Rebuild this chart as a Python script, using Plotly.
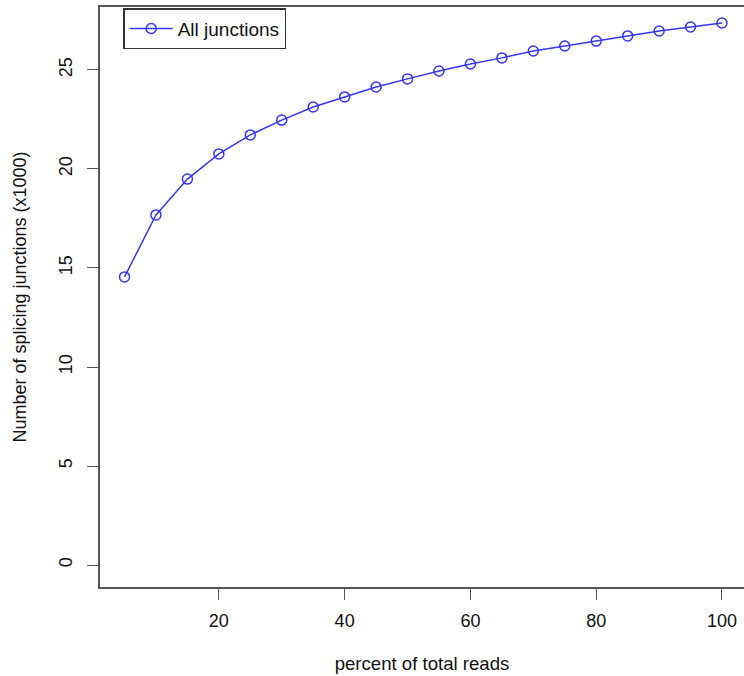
import plotly.graph_objects as go

percent = [5, 10, 15, 20, 25, 30, 35, 40, 45, 50, 55, 60, 65, 70, 75, 80, 85, 90, 95, 100]
junctions = [14.55, 17.68, 19.49, 20.76, 21.72, 22.47, 23.13, 23.64, 24.14, 24.55,
             24.95, 25.30, 25.61, 25.96, 26.21, 26.46, 26.72, 26.97, 27.17, 27.37]
series_name = "All junctions"
x_ticks = [20, 40, 60, 80, 100]
y_ticks = [0, 5, 10, 15, 20, 25]

FONT = "Liberation Sans, Arial, sans-serif"
AX = "#555555"

fig = go.Figure()
fig.add_trace(go.Scatter(
    x=percent, y=junctions, name=series_name, mode="lines+markers",
    line=dict(color="#3535f5", width=1.5),
    marker=dict(symbol="circle-open", size=10, color="#3535f5", line=dict(width=1.5)),
))

fig.update_layout(
    width=744, height=676,
    margin=dict(l=100, r=0, t=7, b=89),
    plot_bgcolor="white", paper_bgcolor="white",
    font=dict(family=FONT, size=18, color="#111111"),
    showlegend=True,
    legend=dict(
        x=0.036, y=0.998, xanchor="left", yanchor="top",
        bordercolor="#333333", borderwidth=1.5, bgcolor="white",
        font=dict(size=19), itemwidth=43,
    ),
    xaxis=dict(
        range=[1.1, 103.5], tickvals=x_ticks, showgrid=False, zeroline=False,
        showline=True, linecolor=AX, linewidth=1.5, mirror=True,
        ticks="outside", ticklen=11, tickcolor=AX, tickwidth=1.2,
        title=dict(text="percent of total reads", standoff=27, font=dict(size=18.6)),
        ticklabelstandoff=6,
    ),
    yaxis=dict(
        range=[-1.11, 28.18], tickvals=y_ticks, showgrid=False, zeroline=False,
        showline=True, linecolor=AX, linewidth=1.5, mirror=False,
        ticks="outside", ticklen=11, tickcolor=AX, tickwidth=1.2,
        tickangle=-90,
        title=dict(text="Number of splicing junctions (x1000)", standoff=25, font=dict(size=18)),
        ticklabelstandoff=8,
    ),
)

fig.write_html("out.html")
